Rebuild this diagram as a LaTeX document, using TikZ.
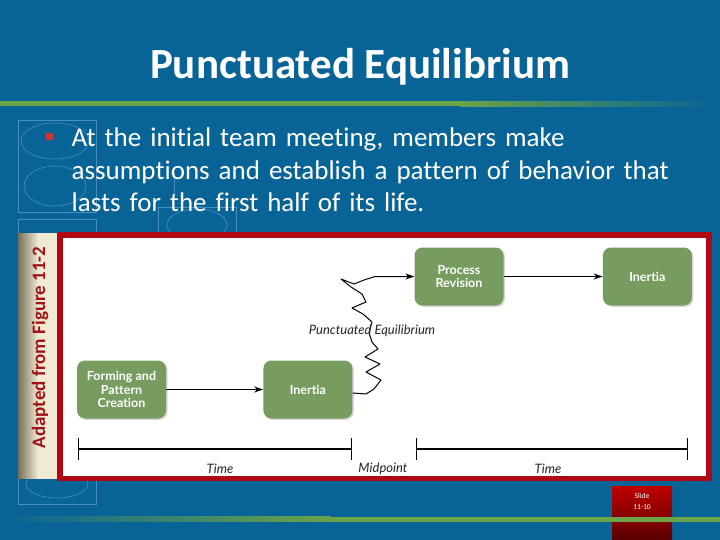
\documentclass[tikz,border=0pt]{standalone}
\usepackage{fontspec}
\setmainfont[Ligatures=NoCommon]{Carlito}
\newfontfamily\figfont[Ligatures=NoCommon]{Lato}
\usetikzlibrary{positioning, arrows.meta, shadows}
\definecolor{slideblue}{RGB}{8,99,150}
\definecolor{linegreen}{RGB}{106,163,72}
\definecolor{framered}{RGB}{178,8,20}
\definecolor{boxgreen}{RGB}{119,156,95}
\definecolor{labelred}{RGB}{160,18,22}
\definecolor{stripdark}{RGB}{118,110,92}
\definecolor{striplight}{RGB}{240,234,210}
\definecolor{decor}{RGB}{72,142,192}
\definecolor{bulletred}{RGB}{205,52,52}
\tikzset{
>={Stealth[length=9pt,width=6pt]}, % filled arrow heads
stage/.style={fill=boxgreen, rounded corners=8pt, minimum width=89pt, minimum height=58pt,
  text=white, align=center, font=\figfont\bfseries\fontsize{12.5}{13.5}\selectfont,
  drop shadow={shadow xshift=1.5pt, shadow yshift=-1.5pt, opacity=0.3}}, % the green boxes
flow/.style={->, line width=1.1pt}, % arrows between the boxes
axis/.style={line width=1.1pt, {Bar[width=22pt]}-{Bar[width=22pt]}}, % time line with end ticks
axislabel/.style={font=\figfont\itshape\fontsize{13}{15}\selectfont, text=black!85},
faint/.style={draw=decor, line width=0.6pt}, % template lines in the background
}

\begin{document}
\begin{tikzpicture}[x=1pt, y=-1pt]
    \useasboundingbox[fill=slideblue] (0,0) rectangle (720,540);
    % background template lines
    \draw[faint] (18,120) rectangle (96,212);
    \draw[faint] (18,219) rectangle (96,504);
    \draw[faint] (158,207) rectangle (236,250);
    \draw[faint] (55,141) ellipse (34pt and 18pt);
    \draw[faint] (55,186) ellipse (31pt and 20pt);
    \draw[faint] (197,225) ellipse (30pt and 16pt);
    \draw[faint] (57,484) ellipse (31pt and 14pt);
    \draw[faint, -{Stealth[length=4pt,width=3pt]}] (174,173) -- (174,198);
    % title and rules
    \node[text=white, font=\bfseries\fontsize{43}{50}\selectfont] (title) at (360,67) {Punctuated Equilibrium};
    \fill[linegreen] (0,101.5) rectangle (460,106.5);
    \shade[left color=linegreen, right color=slideblue] (460,101.5) rectangle (720,106.5);
    \fill[bulletred] (46,133.5) rectangle (52.5,140.5);
    \node[anchor=base west, inner sep=0, text width=640pt, align=left, text=white,
      font=\fontsize{27}{32.5}\selectfont] (point) at (71.5,146.7)
      {At the initial team meeting, members make\\ assumptions and establish a pattern of behavior that\\ lasts for the first half of its life.};
    % side strip and frame
    \shade[left color=stripdark, right color=striplight, middle color=striplight] (18,233) rectangle (58,478);
    \node[rotate=90, text=labelred, font=\bfseries\fontsize{19}{21}\selectfont] (source) at (40,347.5) {Adapted from Figure 11-2};
    \draw[framered, line width=5.5pt, fill=white] (60,235) rectangle (709,478.5);
    % the model
    \node[stage] (forming) at (121.5,389.5) {Forming and\\ Pattern\\ Creation};
    \node[stage, right=97pt of forming] (inertiaA) {Inertia};
    \node[stage] (revision) at (459,276.5) {Process\\ Revision};
    \node[stage, right=99pt of revision] (inertiaB) {Inertia};
    \draw[flow] (forming) -- (inertiaA);
    \draw[flow] (revision) -- (inertiaB);
    \draw[flow, line width=1pt, line join=round] ([yshift=-3.5pt]inertiaA.east) -- (366,394) -- (374,389)
      -- (381,380) -- (366,372) -- (380,364) -- (365,357) -- (378,349) -- (372,342) -- (369,333)
      -- (372,322) -- (363,314) -- (352,308) -- (366,302) -- (362,294) -- (351,287) -- (341,279)
      -- (354,284) -- (364,280) -- (375,276.5) -- (revision.west);
    \node[axislabel] (punct) at (372,331) {Punctuated Equilibrium};
    % time line
    \coordinate (startA) at (78,449);
    \coordinate (endA) at (352,449);
    \coordinate (startB) at (416,449);
    \coordinate (endB) at (688,449);
    \draw[axis] (startA) -- (endA);
    \draw[axis] (startB) -- (endB);
    \node[axislabel] (timeA) at (220,469) {Time};
    \node[axislabel] (mid) at (383,469) {Midpoint};
    \node[axislabel] (timeB) at (548,469) {Time};
    % slide number
    \shade[top color=red!75!black, bottom color=red!35!black] (612,486) rectangle (672,540);
    \node[text=white, align=center, font=\fontsize{7.5}{11}\selectfont] (slideno) at (642,501) {Slide\\ 11-10};
    \shade[left color=slideblue, right color=linegreen] (0,516.5) rectangle (330,521.5);
    \fill[linegreen] (330,516.5) rectangle (720,521.5);
\end{tikzpicture}
\end{document}
